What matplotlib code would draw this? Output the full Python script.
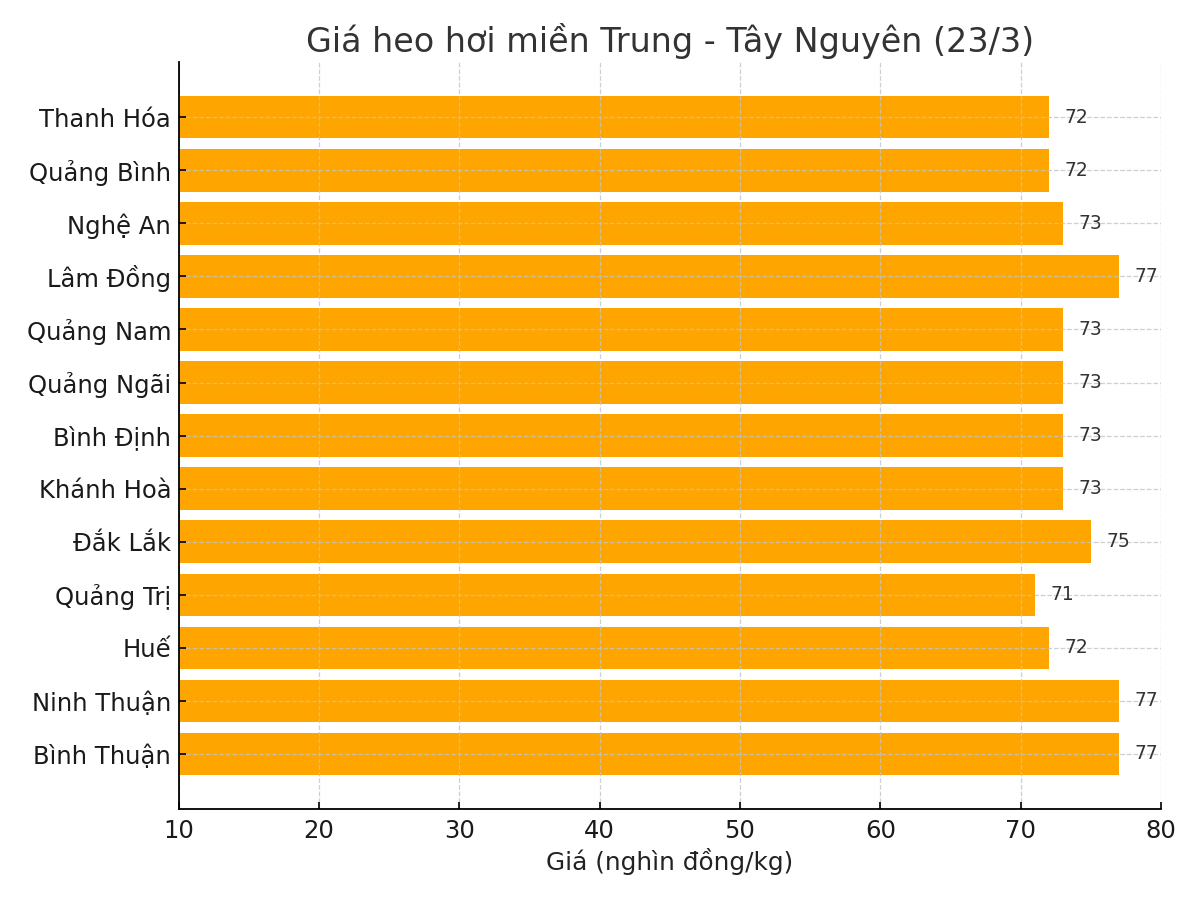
import matplotlib.pyplot as plt

plt.rcParams["font.family"] = ["DejaVu Sans"]

# dữ liệu
tinh = ["Thanh Hóa", "Quảng Bình", "Nghệ An", "Lâm Đồng", "Quảng Nam", "Quảng Ngãi",
        "Bình Định", "Khánh Hoà", "Đắk Lắk", "Quảng Trị", "Huế", "Ninh Thuận", "Bình Thuận"]
gia = [72, 72, 73, 77, 73, 73, 73, 73, 75, 71, 72, 77, 77]

fig, ax = plt.subplots(figsize=(12, 9), dpi=100)
fig.subplots_adjust(left=0.149, right=0.9675, top=0.931, bottom=0.101)

vi_tri = list(range(len(tinh)))[::-1]
ax.barh(vi_tri, gia, color="#FFA500", height=0.8)

for y, v in zip(vi_tri, gia):
    ax.text(v + 1.1, y, str(v), va="center", ha="left", fontsize=13.5, color="#333333")

ax.set_yticks(vi_tri)
ax.set_yticklabels(tinh, fontsize=17.5, color="#1a1a1a")
ax.set_xlim(10, 80)
ax.tick_params(axis="x", labelsize=17.5, labelcolor="#1a1a1a", pad=7)
ax.tick_params(axis="y", pad=5.5)
ax.tick_params(direction="in", length=5, width=1.2)
ax.set_xlabel("Giá (nghìn đồng/kg)", fontsize=17.8, color="#222222", labelpad=4)
ax.set_title("Giá heo hơi miền Trung - Tây Nguyên (23/3)", fontsize=24, color="#333333", pad=7)

for s in ["top", "right"]:
    ax.spines[s].set_visible(False)
for s in ["left", "bottom"]:
    ax.spines[s].set_linewidth(1.3)
    ax.spines[s].set_zorder(5)
ax.set_axisbelow(False)
ax.grid(True, linestyle="--", color="#c4c4c4", linewidth=0.9, alpha=0.8)

plt.savefig("out.png")
